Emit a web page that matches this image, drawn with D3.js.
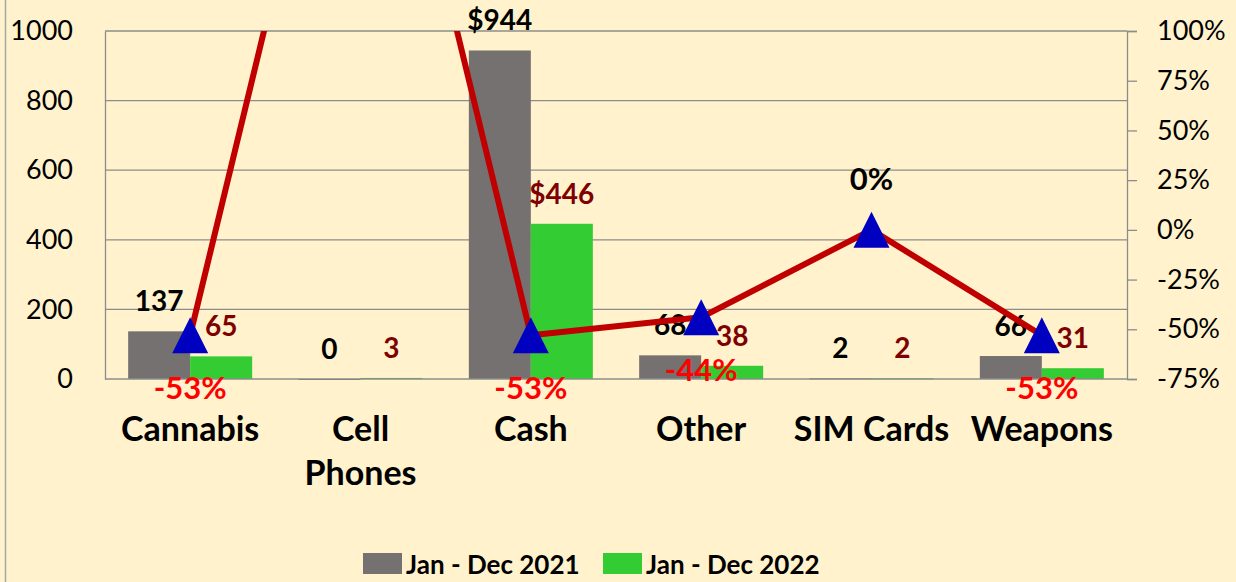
<!DOCTYPE html>
<html>
<head>
<meta charset="utf-8">
<script src="https://cdn.jsdelivr.net/npm/d3@7"></script>
<style>
  html, body { margin: 0; padding: 0; background: #FFF2CC; }
  svg { display: block; font-family: Lato, "Open Sans", sans-serif; }
</style>
</head>
<body>
<svg width="1236" height="582"></svg>
<script>
// categories and values
var categories = ["Cannabis", "Cell Phones", "Cash", "Other", "SIM Cards", "Weapons"];
var seriesNames = ["Jan - Dec 2021", "Jan - Dec 2022"];
var values2021 = [137, 0, 944, 68, 2, 66];
var values2022 = [65, 3, 446, 38, 2, 31];
var labels2021 = ["137", "0", "$944", "68", "2", "66"];
var labels2022 = ["65", "3", "$446", "38", "2", "31"];
// percent change (Cell Phones has no base, the line runs off the top)
var pctChange = [-0.53, 3.0, -0.53, -0.44, 0, -0.53];
var pctLabels = ["-53%", "", "-53%", "-44%", "0%", "-53%"];
var leftTicks = [0, 200, 400, 600, 800, 1000];
var rightTicks = [-0.75, -0.5, -0.25, 0, 0.25, 0.5, 0.75, 1];

var svg = d3.select("svg"),
    width = +svg.attr("width"),
    height = +svg.attr("height");

var plot = { left: 105, right: 1127, top: 31, bottom: 379 };
var colors = ["#767171", "#33CC33"];

var x = d3.scaleBand()
    .domain(categories)
    .range([plot.left, plot.right])
    .paddingInner(0.272)
    .paddingOuter(0.136);

var xSub = d3.scaleBand()
    .domain(seriesNames)
    .range([0, x.bandwidth()]);

var yLeft = d3.scaleLinear().domain([0, 1000]).range([plot.bottom, plot.top]);
var yRight = d3.scaleLinear().domain([-0.75, 1]).range([plot.bottom, plot.top]);

// chart border on the left edge
svg.append("line")
    .attr("x1", 5.5).attr("x2", 5.5)
    .attr("y1", 0).attr("y2", height)
    .attr("stroke", "#A6A6A6")
    .attr("stroke-width", 1.5);

// gridlines
svg.append("g")
    .selectAll("line")
    .data(leftTicks.slice(1))
    .enter()
    .append("line")
    .attr("x1", plot.left).attr("x2", plot.right)
    .attr("y1", function (d) { return yLeft(d); })
    .attr("y2", function (d) { return yLeft(d); })
    .attr("stroke", "#8C8C8C")
    .attr("stroke-width", 1.3);

// left axis
var leftAxis = d3.axisLeft(yLeft)
    .tickValues(leftTicks)
    .tickSize(0)
    .tickPadding(32)
    .tickFormat(d3.format("d"));

var gl = svg.append("g")
    .attr("transform", "translate(" + plot.left + ",0)")
    .call(leftAxis);
gl.select(".domain").attr("stroke", "#8C8C8C").attr("stroke-width", 1.3);
gl.selectAll("text")
    .attr("font-size", "27px")
    .attr("fill", "#000")
    .style("font-family", "Lato");

// right axis
var rightAxis = d3.axisRight(yRight)
    .tickValues(rightTicks)
    .tickSize(10)
    .tickPadding(20)
    .tickFormat(function (d) { return Math.round(d * 100) + "%"; });

var gr = svg.append("g")
    .attr("transform", "translate(" + plot.right + ",0)")
    .call(rightAxis);
gr.select(".domain").attr("stroke", "#8C8C8C").attr("stroke-width", 1.3);
gr.selectAll(".tick line").attr("stroke", "#8C8C8C").attr("stroke-width", 1.3);
gr.selectAll("text")
    .attr("font-size", "27px")
    .attr("fill", "#000")
    .style("font-family", "Lato");

// bars
var rows = categories.map(function (c, i) {
    return { cat: c, vals: [values2021[i], values2022[i]], labs: [labels2021[i], labels2022[i]] };
});

var group = svg.append("g")
    .selectAll("g")
    .data(rows)
    .enter()
    .append("g")
    .attr("transform", function (d) { return "translate(" + x(d.cat) + ",0)"; });

group.selectAll("rect")
    .data(function (d) { return d.vals.map(function (v, j) { return { s: seriesNames[j], v: v, j: j }; }); })
    .enter()
    .append("rect")
    .attr("x", function (d) { return xSub(d.s); })
    .attr("width", xSub.bandwidth())
    .attr("y", function (d) { return yLeft(d.v); })
    .attr("height", function (d) { return Math.max(1, yLeft(0) - yLeft(d.v)); })
    .attr("fill", function (d) { return colors[d.j]; });

// bottom axis line (drawn over bars)
svg.append("line")
    .attr("x1", plot.left).attr("x2", plot.right)
    .attr("y1", plot.bottom).attr("y2", plot.bottom)
    .attr("stroke", "#8C8C8C")
    .attr("stroke-width", 1.3);

// percent-change line
svg.append("defs")
    .append("clipPath")
    .attr("id", "plotclip")
    .append("rect")
    .attr("x", plot.left)
    .attr("y", plot.top)
    .attr("width", plot.right - plot.left)
    .attr("height", height - plot.top);

var line = d3.line()
    .x(function (d, i) { return x(categories[i]) + x.bandwidth() / 2; })
    .y(function (d) { return yRight(d); });

var pctG = svg.append("g").attr("clip-path", "url(#plotclip)");

pctG.append("path")
    .datum(pctChange)
    .attr("d", line)
    .attr("fill", "none")
    .attr("stroke", "#C00000")
    .attr("stroke-width", 6)
    .attr("stroke-linejoin", "round");

pctG.selectAll("path.marker")
    .data(pctChange)
    .enter()
    .append("path")
    .attr("class", "marker")
    .attr("d", "M0,-18L18,18L-18,18Z")
    .attr("fill", "#0000C0")
    .attr("transform", function (d, i) {
        return "translate(" + (x(categories[i]) + x.bandwidth() / 2) + "," + yRight(d) + ")";
    });

// bar value labels
group.selectAll("text.val")
    .data(function (d) { return d.vals.map(function (v, j) { return { s: seriesNames[j], v: v, j: j, lab: d.labs[j] }; }); })
    .enter()
    .append("text")
    .attr("class", "val")
    .attr("x", function (d) { return xSub(d.s) + xSub.bandwidth() / 2; })
    .attr("y", function (d) { return yLeft(d.v) - 20; })
    .attr("text-anchor", "middle")
    .attr("font-size", "28px")
    .attr("font-weight", "bold")
    .attr("fill", function (d) { return d.j === 0 ? "#000" : "#7F0000"; })
    .text(function (d) { return d.lab; });

// percent labels
svg.append("g")
    .selectAll("text")
    .data(pctChange)
    .enter()
    .append("text")
    .attr("x", function (d, i) { return x(categories[i]) + x.bandwidth() / 2; })
    .attr("y", function (d) { return d === 0 ? yRight(d) - 40 : yRight(d) + 64; })
    .attr("text-anchor", "middle")
    .attr("font-size", "31px")
    .attr("font-weight", "bold")
    .attr("fill", function (d) { return d === 0 ? "#000" : "#FF0000"; })
    .text(function (d, i) { return pctLabels[i]; });

// category labels
var catText = svg.append("g")
    .selectAll("text")
    .data(categories)
    .enter()
    .append("text")
    .attr("x", function (d) { return x(d) + x.bandwidth() / 2; })
    .attr("y", 441)
    .attr("text-anchor", "middle")
    .attr("font-size", "34px")
    .attr("font-weight", "bold")
    .attr("fill", "#000");

catText.each(function (d) {
    var words = d === "Cell Phones" ? ["Cell", "Phones"] : [d];
    var t = d3.select(this);
    words.forEach(function (w, k) {
        t.append("tspan")
            .attr("x", x(d) + x.bandwidth() / 2)
            .attr("dy", k === 0 ? 0 : 44)
            .text(w);
    });
});

// legend
var legend = svg.append("g")
    .selectAll("g")
    .data(seriesNames)
    .enter()
    .append("g")
    .attr("transform", function (d, i) { return "translate(" + (363 + i * 240) + ",553)"; });

legend.append("rect")
    .attr("width", 39)
    .attr("height", 21)
    .attr("fill", function (d, i) { return colors[i]; });

legend.append("text")
    .attr("x", 43)
    .attr("y", 21)
    .attr("font-size", "26px")
    .attr("font-weight", "bold")
    .attr("fill", "#000")
    .text(function (d) { return d; });
</script>
</body>
</html>
